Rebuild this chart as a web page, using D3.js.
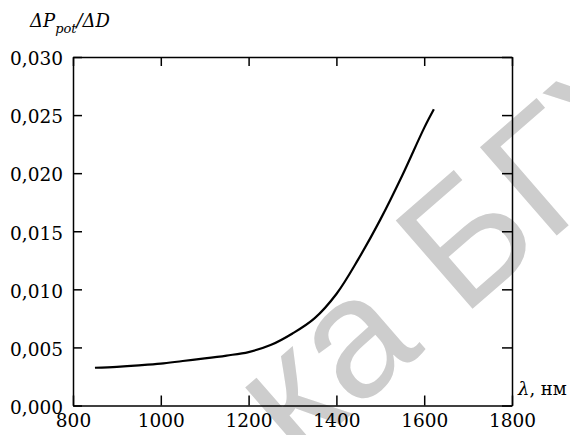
<!DOCTYPE html>
<html>
<head>
  <meta charset="utf-8">
  <title>dP/dD vs wavelength</title>
  <script src="https://d3js.org/d3.v7.min.js"></script>
  <style>
    body { margin: 0; background: #fff; }
    svg { display: block; }
    .axis text { font-size: 18.5px; font-family: "DejaVu Serif", serif; fill: #000; }
    .axis path, .axis line { stroke: #000; stroke-width: 1.5px; }
    .curve { fill: none; stroke: #000; stroke-width: 2.2px; }
    .title { font-family: "DejaVu Serif", serif; fill: #000; }
    .mark { font-size: 170px; font-family: "Liberation Sans", Arial, sans-serif; fill: #cdcdcd; }
  </style>
</head>
<body>
<script>
  // values
  const wavelength = [850, 900, 950, 1000, 1050, 1100, 1150, 1200, 1250, 1300, 1350, 1400, 1450, 1500, 1550, 1600, 1622];
  const ratio = [0.00325, 0.00333, 0.00345, 0.0036, 0.00383, 0.00405, 0.0043, 0.0046, 0.0052, 0.0062, 0.0075, 0.0096, 0.0126, 0.0160, 0.0198, 0.0239, 0.0255];
  const xTicks = [800, 1000, 1200, 1400, 1600, 1800];
  const yTicks = [0, 0.005, 0.010, 0.015, 0.020, 0.025, 0.030];

  const width = 570, height = 435;
  const plotLeft = 73, plotRight = 512, plotTop = 57, plotBottom = 405.5;

  const svg = d3.select("body").append("svg")
      .attr("width", width)
      .attr("height", height);

  const x = d3.scaleLinear().domain([800, 1800]).range([plotLeft, plotRight]);
  const y = d3.scaleLinear().domain([0, 0.03]).range([plotBottom, plotTop]);

  const ru = d3.formatLocale({ decimal: ",", thousands: "", grouping: [3], currency: ["", ""] });
  const fmt = ru.format(".3f");

  // watermark sits under the chart
  const mark = svg.append("g").attr("transform", "translate(462,318) rotate(-41)");
  mark.append("text").attr("class", "mark").text("БГУИР");
  mark.append("text").attr("class", "mark").attr("x", -48)
      .attr("text-anchor", "end").text("ка");

  // axes, ticks pointing inward
  svg.append("g").attr("class", "axis")
      .attr("transform", `translate(0,${plotBottom})`)
      .call(d3.axisBottom(x).tickValues(xTicks).tickSizeInner(-10).tickSizeOuter(0).tickPadding(8).tickFormat(d3.format("d")))
      .call(g => g.selectAll("text").attr("dy", "0.75em"));

  svg.append("g").attr("class", "axis")
      .attr("transform", `translate(0,${plotTop})`)
      .call(d3.axisTop(x).tickValues(xTicks).tickSizeInner(-9).tickSizeOuter(0).tickFormat(""));

  svg.append("g").attr("class", "axis")
      .attr("transform", `translate(${plotLeft},0)`)
      .call(d3.axisLeft(y).tickValues(yTicks).tickSizeInner(-9).tickSizeOuter(0).tickPadding(10).tickFormat(fmt))
      .call(g => g.selectAll("text").attr("dy", "0.42em"));

  svg.append("g").attr("class", "axis")
      .attr("transform", `translate(${plotRight},0)`)
      .call(d3.axisRight(y).tickValues(yTicks).tickSizeInner(-10).tickSizeOuter(0).tickFormat(""));

  // curve
  const line = d3.line()
      .x((d, i) => x(wavelength[i]))
      .y(d => y(d))
      .curve(d3.curveCatmullRom);

  svg.append("path")
      .datum(ratio)
      .attr("class", "curve")
      .attr("d", line);

  // axis titles
  const yt = svg.append("text").attr("class", "title")
      .attr("x", 30).attr("y", 27)
      .style("font-size", "18px").style("font-style", "italic");
  yt.append("tspan").text("ΔP");
  yt.append("tspan").attr("dy", 6).style("font-size", "13px").text("pot");
  yt.append("tspan").attr("dy", -6).text("/ΔD");

  const xt = svg.append("text").attr("class", "title")
      .attr("x", 518).attr("y", 395)
      .style("font-size", "18px");
  xt.append("tspan").style("font-style", "italic").text("λ");
  xt.append("tspan").text(", нм");
</script>
</body>
</html>
